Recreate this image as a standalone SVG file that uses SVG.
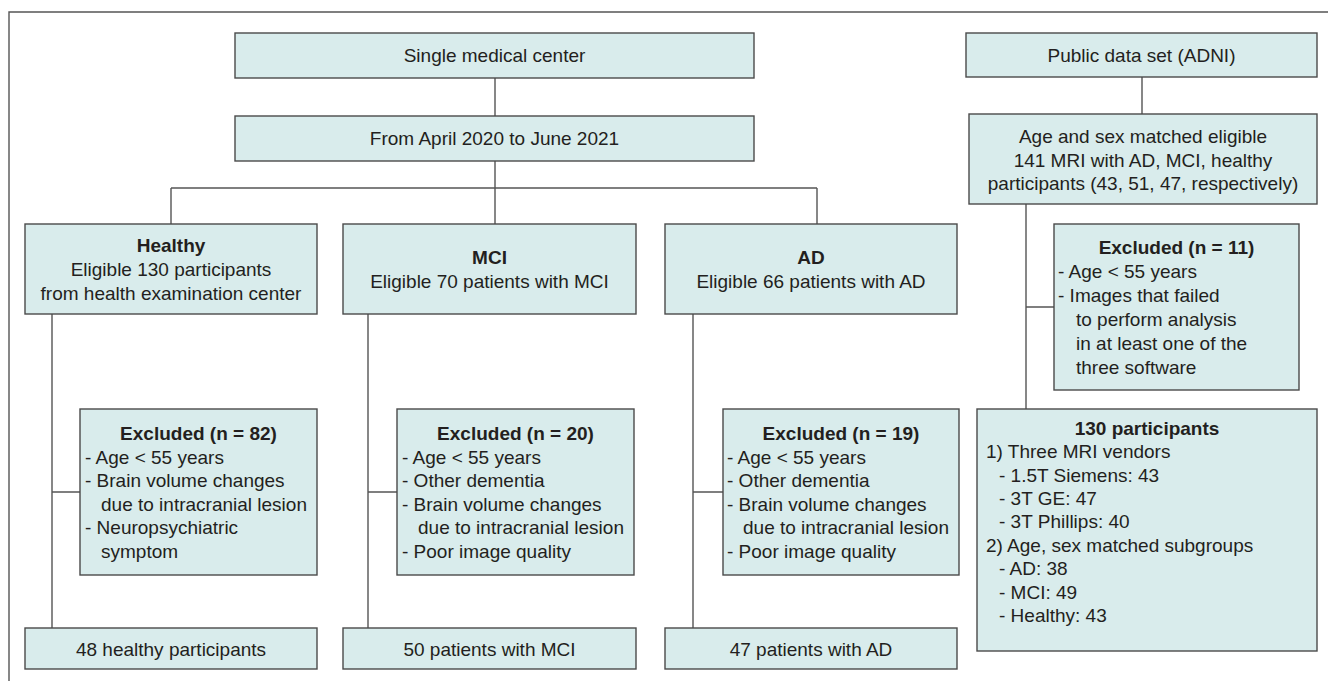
<svg xmlns="http://www.w3.org/2000/svg" width="1328" height="681" viewBox="0 0 1328 681">
<style>
.box{fill:#d9ecec;stroke:#4a4a4a;stroke-width:1.4}
.ln{fill:none;stroke:#555;stroke-width:1.4}
text{font-family:"Liberation Sans",Arial,sans-serif;font-size:19px;fill:#231f20}
.c{text-anchor:middle}
.b{font-weight:bold}
</style>
<rect width="1328" height="681" fill="#fff"/>
<path class="ln" d="M9,681 V12 H1328" stroke="#333"/>
<g id="connectors">
<path class="ln" d="M495,78 V116 M495,161 V224 M171,188 H817 M171,188 V224 M817,188 V224"/>
<path class="ln" d="M52,314 V628 M52,492 H80 M368,314 V628 M368,492 H397 M693,314 V628 M693,492 H723"/>
<path class="ln" d="M1142,77 V114 M1026,204 V409 M1026,307 H1054"/>
</g>
<g id="single">
<rect class="box" x="235" y="33" width="519" height="45"/>
<text class="c" x="494.5" y="62">Single medical center</text>
</g>
<g id="period">
<rect class="box" x="235" y="116" width="519" height="45"/>
<text class="c" x="494.5" y="145">From April 2020 to June 2021</text>
</g>
<g id="public">
<rect class="box" x="966" y="33" width="351" height="44"/>
<text class="c" x="1141.5" y="62">Public data set (ADNI)</text>
</g>
<g id="adni">
<rect class="box" x="969" y="114" width="348" height="90"/>
<text class="c" x="1143" y="143">Age and sex matched eligible</text>
<text class="c" x="1143" y="166.5">141 MRI with AD, MCI, healthy</text>
<text class="c" x="1143" y="190">participants (43, 51, 47, respectively)</text>
</g>
<g id="healthy">
<rect class="box" x="25" y="224" width="292" height="90"/>
<text class="c b" x="171" y="252">Healthy</text>
<text class="c" x="171" y="276">Eligible 130 participants</text>
<text class="c" x="171" y="299.5">from health examination center</text>
</g>
<g id="mci">
<rect class="box" x="343" y="224" width="293" height="90"/>
<text class="c b" x="489.5" y="263.5">MCI</text>
<text class="c" x="489.5" y="288">Eligible 70 patients with MCI</text>
</g>
<g id="ad">
<rect class="box" x="665" y="224" width="292" height="90"/>
<text class="c b" x="811" y="263.5">AD</text>
<text class="c" x="811" y="288">Eligible 66 patients with AD</text>
</g>
<g id="excl-healthy">
<rect class="box" x="80" y="409" width="237" height="166"/>
<text class="c b" x="198.5" y="440">Excluded (n = 82)</text>
<text x="85" y="463.5">- Age &lt; 55 years</text>
<text x="85" y="487">- Brain volume changes</text>
<text x="101" y="510.5">due to intracranial lesion</text>
<text x="85" y="534">- Neuropsychiatric</text>
<text x="101" y="557.5">symptom</text>
</g>
<g id="excl-mci">
<rect class="box" x="397" y="409" width="237" height="166"/>
<text class="c b" x="515.5" y="440">Excluded (n = 20)</text>
<text x="402" y="463.5">- Age &lt; 55 years</text>
<text x="402" y="487">- Other dementia</text>
<text x="402" y="510.5">- Brain volume changes</text>
<text x="418" y="534">due to intracranial lesion</text>
<text x="402" y="557.5">- Poor image quality</text>
</g>
<g id="excl-ad">
<rect class="box" x="723" y="409" width="236" height="166"/>
<text class="c b" x="841" y="440">Excluded (n = 19)</text>
<text x="727" y="463.5">- Age &lt; 55 years</text>
<text x="727" y="487">- Other dementia</text>
<text x="727" y="510.5">- Brain volume changes</text>
<text x="743" y="534">due to intracranial lesion</text>
<text x="727" y="557.5">- Poor image quality</text>
</g>
<g id="excl-adni">
<rect class="box" x="1054" y="224" width="245" height="166"/>
<text class="c b" x="1176.5" y="254">Excluded (n = 11)</text>
<text x="1058" y="278">- Age &lt; 55 years</text>
<text x="1058" y="302">- Images that failed</text>
<text x="1076" y="326">to perform analysis</text>
<text x="1076" y="349.5">in at least one of the</text>
<text x="1076" y="373.5">three software</text>
</g>
<g id="final-adni">
<rect class="box" x="977" y="409" width="340" height="242"/>
<text class="c b" x="1147" y="435">130 participants</text>
<text x="986" y="458.3">1) Three MRI vendors</text>
<text x="999" y="481.7">- 1.5T Siemens: 43</text>
<text x="999" y="505">- 3T GE: 47</text>
<text x="999" y="528.4">- 3T Phillips: 40</text>
<text x="986" y="551.8">2) Age, sex matched subgroups</text>
<text x="999" y="575.2">- AD: 38</text>
<text x="999" y="598.6">- MCI: 49</text>
<text x="999" y="622">- Healthy: 43</text>
</g>
<g id="final-healthy">
<rect class="box" x="25" y="628" width="292" height="41"/>
<text class="c" x="171" y="655.5">48 healthy participants</text>
</g>
<g id="final-mci">
<rect class="box" x="343" y="628" width="293" height="41"/>
<text class="c" x="489.5" y="655.5">50 patients with MCI</text>
</g>
<g id="final-ad">
<rect class="box" x="665" y="628" width="292" height="41"/>
<text class="c" x="811" y="655.5">47 patients with AD</text>
</g>
</svg>
